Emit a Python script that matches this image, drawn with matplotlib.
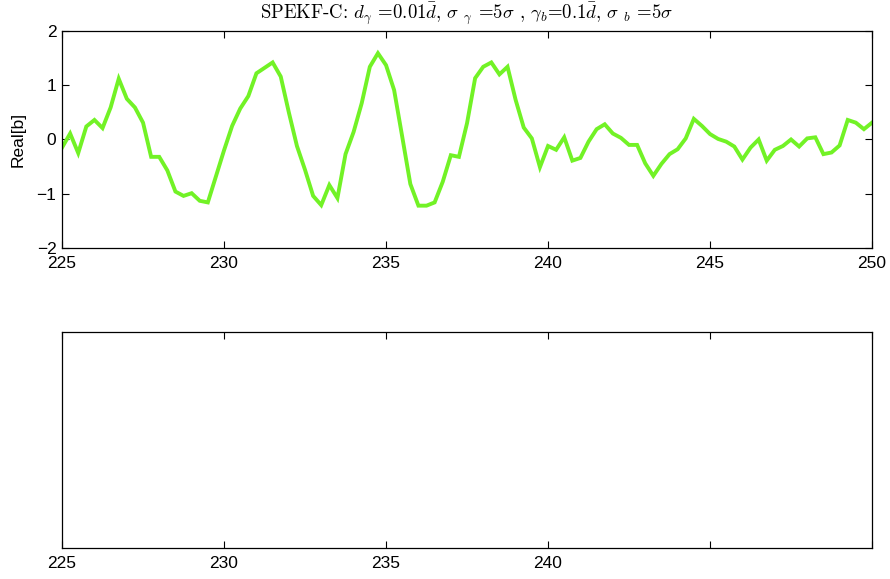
import numpy as np
import matplotlib
matplotlib.use("Agg")
import matplotlib.pyplot as plt

plt.rcParams["mathtext.fontset"] = "cm"
plt.rcParams["font.family"] = ["Liberation Sans", "DejaVu Sans"]

# Time axis: samples every 0.25 from 225 to 250
t_start, t_end, dt = 225.0, 250.0, 0.25
t = np.arange(t_start, t_end + dt / 2, dt)

real_b = [
    -0.15, 0.11, -0.25, 0.24, 0.36, 0.21, 0.59, 1.12, 0.75, 0.59,
    0.31, -0.32, -0.32, -0.57, -0.96, -1.04, -0.99, -1.13, -1.16, -0.68,
    -0.20, 0.25, 0.57, 0.80, 1.22, 1.32, 1.42, 1.16, 0.50, -0.12,
    -0.56, -1.04, -1.21, -0.84, -1.08, -0.27, 0.14, 0.67, 1.34, 1.59,
    1.37, 0.91, 0.05, -0.82, -1.22, -1.22, -1.16, -0.78, -0.29, -0.32,
    0.30, 1.13, 1.34, 1.42, 1.20, 1.34, 0.73, 0.22, 0.02, -0.51,
    -0.12, -0.19, 0.04, -0.39, -0.34, -0.04, 0.19, 0.28, 0.11, 0.03,
    -0.10, -0.10, -0.44, -0.67, -0.45, -0.27, -0.18, 0.02, 0.38, 0.25,
    0.10, 0.01, -0.04, -0.13, -0.37, -0.15, 0.00, -0.39, -0.19, -0.12,
    0.00, -0.13, 0.02, 0.04, -0.27, -0.24, -0.11, 0.36, 0.31, 0.19,
    0.31,
]

x_ticks = [225, 230, 235, 240, 245, 250]
top_x_labels = ["225", "230", "235", "240", "245", "250"]
bottom_x_labels = ["225", "230", "235", "240", "", ""]
y_ticks = [-2, -1, 0, 1, 2]

title = (r"SPEKF-C: $d_\gamma$ =0.01$\bar{d}$, $\sigma\ {}_\gamma$ =5$\sigma$ , "
         r"$\gamma_b$=0.1$\bar{d}$, $\sigma\ {}_b$ =5$\sigma$")

fig = plt.figure(figsize=(8.9, 5.79), dpi=100)
ax1 = fig.add_axes([0.0697, 0.5717, 0.9101, 0.3748])
ax2 = fig.add_axes([0.0697, 0.0535, 0.9101, 0.3731])

ax1.plot(t, real_b, color="#72f226", lw=2.8, solid_joinstyle="miter")
ax1.set_xlim(t_start, t_end)
ax1.set_ylim(-2, 2)
ax1.set_xticks(x_ticks)
ax1.set_xticklabels(top_x_labels)
ax1.set_yticks(y_ticks)
ax1.set_ylabel("Real[b]", fontsize=12.5, labelpad=8)
ax1.set_title(title, fontsize=13.5, fontfamily="cmr10", pad=9)

ax2.set_xlim(t_start, t_end)
ax2.set_xticks(x_ticks)
ax2.set_xticklabels(bottom_x_labels)
ax2.set_yticks([])

for ax in (ax1, ax2):
    ax.tick_params(direction="in", length=5, width=0.8, labelsize=12.5,
                   top=True, right=(ax is ax1))
    ax.tick_params(axis="x", pad=6)
    ax.tick_params(axis="y", pad=4)
    for sp in ax.spines.values():
        sp.set_linewidth(0.9)

fig.savefig("out.png", dpi=100)
